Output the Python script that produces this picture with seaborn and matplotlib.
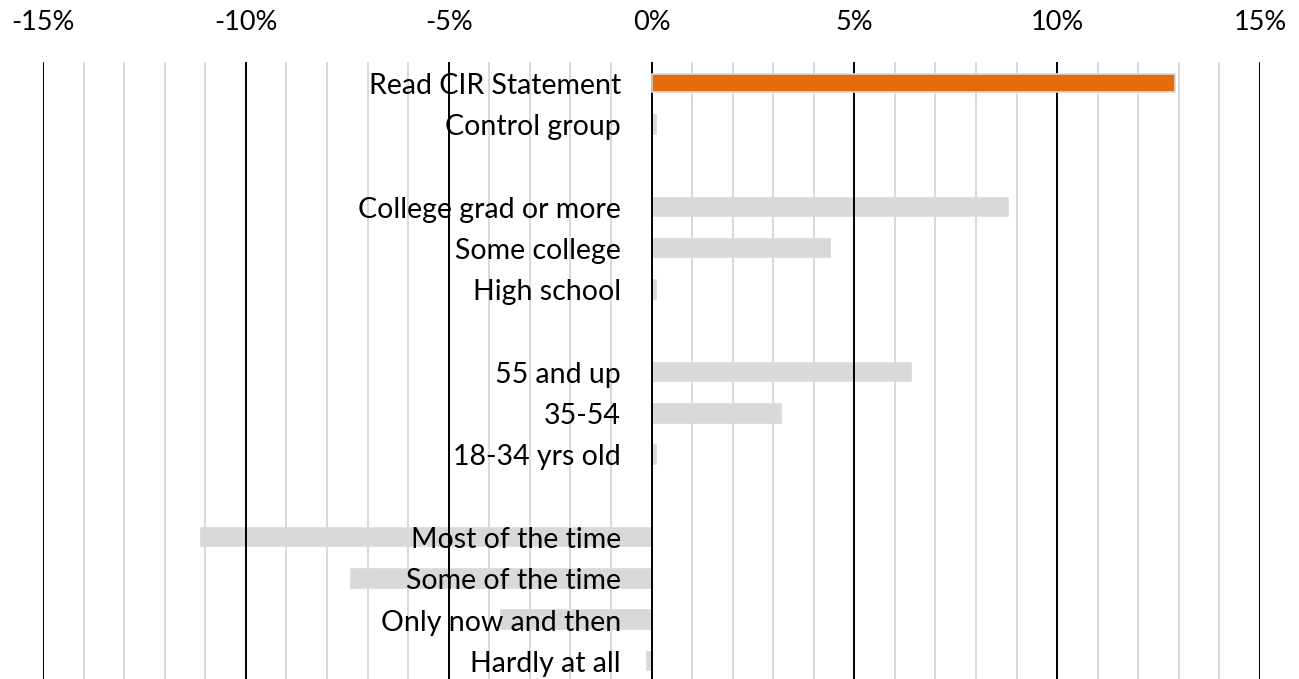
import matplotlib
matplotlib.use("Agg")
import matplotlib.pyplot as plt
import seaborn as sns
import pandas as pd
from matplotlib.ticker import MultipleLocator, FuncFormatter

sns.set_theme(style="white")
plt.rcParams["font.family"] = ["Lato", "DejaVu Sans"]

# rows top to bottom, blank strings are the spacer rows
row_order = ["Read CIR Statement", "Control group", " ",
             "College grad or more", "Some college", "High school", "  ",
             "55 and up", "35-54", "18-34 yrs old", "   ",
             "Most of the time", "Some of the time", "Only now and then", "Hardly at all"]
categories = ["Read CIR Statement", "Control group",
              "College grad or more", "Some college", "High school",
              "55 and up", "35-54", "18-34 yrs old",
              "Most of the time", "Some of the time", "Only now and then", "Hardly at all"]
values = [12.9, 0.1, 8.8, 4.4, 0.1, 6.4, 3.2, 0.1, -11.1, -7.4, -3.7, -0.1]
highlight = "Read CIR Statement"

df = pd.DataFrame({"label": categories, "value": values})
df["group"] = ["hi" if c == highlight else "lo" for c in categories]

fig = plt.figure(figsize=(12.99, 6.79), dpi=100)
ax = fig.add_axes([43 / 1299, -0.0038, 1217 / 1299, 0.912])

sns.barplot(data=df, x="value", y="label", order=row_order, hue="group",
            palette={"hi": "#E46C0A", "lo": "#D9D9D9"}, saturation=1, width=0.45,
            edgecolor="#D9D9D9", linewidth=1.2, legend=False, dodge=False, ax=ax)

# gray bars sit under the grid, the orange one above it
for p in ax.patches:
    fc = p.get_facecolor()
    if fc[0] > 0.8 and fc[2] < 0.3:
        p.set_zorder(5)
    else:
        p.set_zorder(1)

ax.set_xlim(-15, 15)
ax.set_ylim(len(row_order) - 0.5, -0.5)
ax.xaxis.set_major_locator(MultipleLocator(5))
ax.xaxis.set_minor_locator(MultipleLocator(1))
ax.xaxis.set_major_formatter(FuncFormatter(lambda v, _: f"{v:.0f}%"))
ax.grid(False)
for v in range(-15, 16):
    if v % 5 == 0:
        ax.axvline(v, color="black", lw=1.4, zorder=3)
    else:
        ax.axvline(v, color="#D9D9D9", lw=1.4, zorder=2)

ax.xaxis.tick_top()
ax.tick_params(axis="x", which="both", length=0, pad=20, labelsize=19.5, colors="black")
ax.set_yticks([])
ax.set_xlabel("")
ax.set_ylabel("")
for s in ax.spines.values():
    s.set_visible(False)

for i, name in enumerate(row_order):
    if name.strip():
        ax.text(-0.75, i + 0.07, name, ha="right", va="center", fontsize=20.5,
                color="black", zorder=2.5)

fig.savefig("out.png", dpi=100)
